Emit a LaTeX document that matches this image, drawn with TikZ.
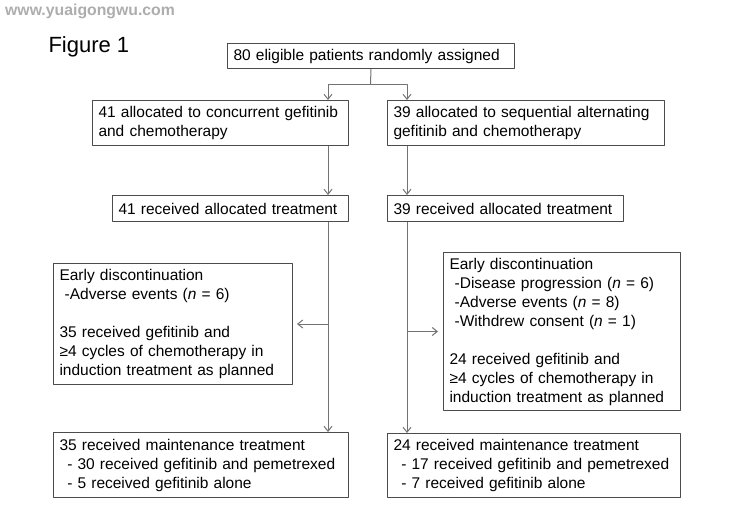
\documentclass[tikz,border=0pt]{standalone}
\usepackage{fontspec}
\setmainfont{Liberation Sans}
\usetikzlibrary{arrows.meta}
\begin{document}
\begin{tikzpicture}[x=1pt, y=-1pt, >={Straight Barb[length=5pt,width=8pt]}, line join=round,
	every node/.style={font=\fontsize{15.5}{19}\selectfont},
	box/.style={draw=black!70, line width=1pt, anchor=north west, align=left, inner xsep=6pt, inner ysep=0pt},
	link/.style={draw=black!55, line width=1pt}]
	\useasboundingbox (0,0) rectangle (734,530);
	\node[anchor=base west, text=black!32, inner xsep=0pt, font=\fontsize{15.8}{18}\selectfont\bfseries] (mark) at (5,16) {www.yuaigongwu.com};
	\node[anchor=base west, font=\fontsize{22}{26}\selectfont] (fig) at (45,52) {Figure 1};
	% Kästen
	\node[box, text width=275pt, minimum height=25pt] (top) at (227,43) {80 eligible patients randomly assigned};
	\node[box, text width=244pt, minimum height=45pt] (L2) at (92,100) {41 allocated to concurrent gefitinib\\and chemotherapy};
	\node[box, text width=265pt, minimum height=45pt] (R2) at (387,100) {39 allocated to sequential alternating\\gefitinib and chemotherapy};
	\node[box, text width=224pt, minimum height=26pt] (L3) at (112,195) {41 received allocated treatment};
	\node[box, text width=224pt, minimum height=26pt] (R3) at (387,195) {39 received allocated treatment};
	\node[box, text width=227pt, minimum height=121pt] (L4) at (53,263) {Early discontinuation\\\ -Adverse events (\textit{n} = 6)\\[19pt]35 received gefitinib and\\≥4 cycles of chemotherapy in\\induction treatment as planned};
	\node[box, text width=225pt, minimum height=158pt] (R4) at (443,252) {Early discontinuation\\\ -Disease progression (\textit{n} = 6)\\\ -Adverse events (\textit{n} = 8)\\\ -Withdrew consent (\textit{n} = 1)\\[19pt]24 received gefitinib and\\≥4 cycles of chemotherapy in\\induction treatment as planned};
	\node[box, text width=283pt, minimum height=65pt] (L5) at (53,432) {35 received maintenance treatment\\\hspace{0.5em}- 30 received gefitinib and pemetrexed\\\hspace{0.5em}- 5 received gefitinib alone};
	\node[box, text width=281pt, minimum height=64pt] (R5) at (387,433) {24 received maintenance treatment\\\hspace{0.5em}- 17 received gefitinib and pemetrexed\\\hspace{0.5em}- 7 received gefitinib alone};
	% Linien
	\coordinate (split) at (370.5,84);
	\coordinate (lx) at (328,0);
	\coordinate (rx) at (407,0);
	\draw[link] (top.south) -- (split);
	\draw[link,->] (split) -| (L2.north -| lx);
	\draw[link,->] (split) -| (R2.north -| rx);
	\draw[link,->] (L2.south -| lx) -- (L3.north -| lx);
	\draw[link,->] (R2.south -| rx) -- (R3.north -| rx);
	\draw[link,->] (L3.south -| lx) -- (L5.north -| lx);
	\draw[link,->] (R3.south -| rx) -- (R5.north -| rx);
	\draw[link,->,shorten >=4pt] (lx |- L4.east) -- (L4.east);
	\draw[link,->,shorten >=5pt] (rx |- R4.west) -- (R4.west);
\end{tikzpicture}
\end{document}
